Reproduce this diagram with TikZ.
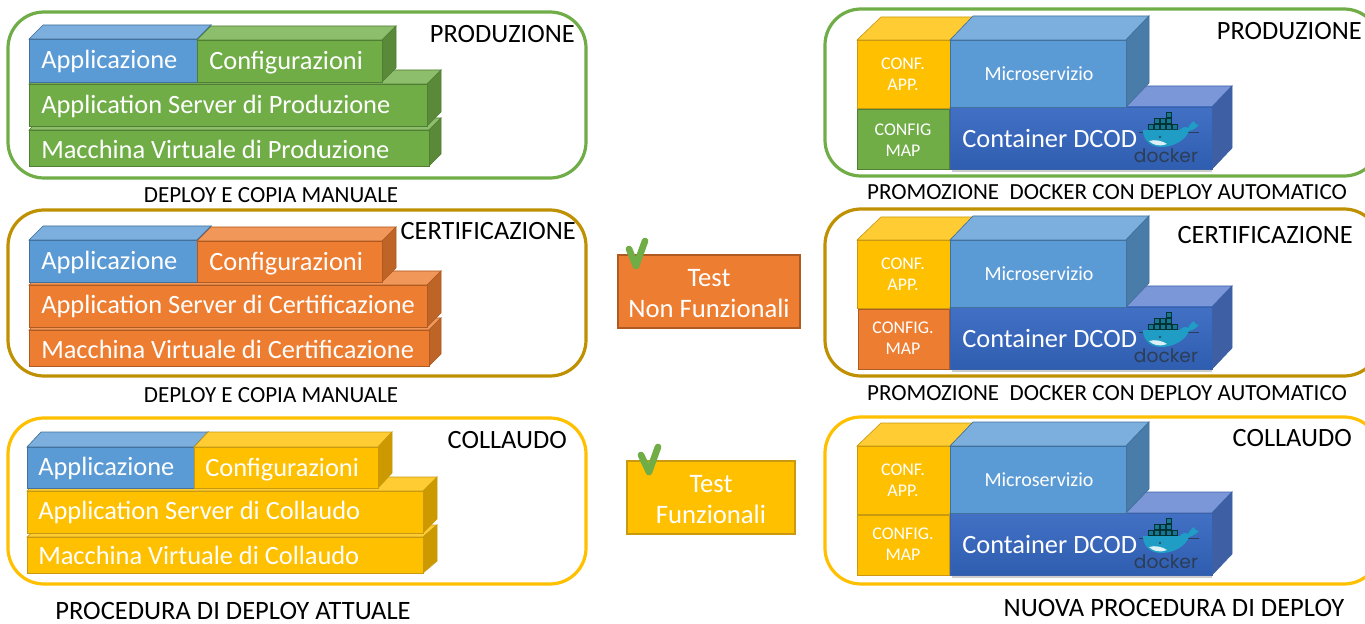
\documentclass[tikz,border=0pt]{standalone}
\usepackage{fontspec}
\setmainfont{Carlito}
\newfontfamily\dockerfont{Poppins}
\definecolor{bluF}{HTML}{5B9BD5}\definecolor{bluT}{HTML}{7CAFDE}\definecolor{bluS}{HTML}{4A7CAA}\definecolor{bluB}{HTML}{41719C}
\definecolor{grnF}{HTML}{70AD47}\definecolor{grnT}{HTML}{8DBE6C}\definecolor{grnS}{HTML}{5A8A39}\definecolor{grnB}{HTML}{507E32}
\definecolor{orgF}{HTML}{ED7D31}\definecolor{orgT}{HTML}{F1975A}\definecolor{orgS}{HTML}{BE6427}\definecolor{orgB}{HTML}{AE5A21}
\definecolor{ylwF}{HTML}{FFC000}\definecolor{ylwT}{HTML}{FFCD33}\definecolor{ylwS}{HTML}{CC9A00}\definecolor{ylwB}{HTML}{C99A10}
\definecolor{navF}{HTML}{4270C4}\definecolor{navG}{HTML}{2F5DB0}\definecolor{navT}{HTML}{7C97D8}\definecolor{navS}{HTML}{3E5FA4}\definecolor{navB}{HTML}{3A62A8}
\definecolor{panG}{HTML}{70AD47}\definecolor{panO}{HTML}{BF9000}\definecolor{panY}{HTML}{FFC000}
\definecolor{whaleC}{HTML}{1F9DC4}\definecolor{dockC}{HTML}{2C3E55}
\tikzset{
 x=0.75pt,y=-0.75pt,
 panel/.style={draw=#1,line width=2.4pt,rounded corners=27pt,fill=white},
 lab/.style={inner sep=0pt,text=white,anchor=west,yshift=-0.4pt,font=\fontsize{19.8}{23}\selectfont},
 lab2/.style={inner sep=0pt,text=white,align=center,font=\fontsize{13.4}{16}\selectfont},
 lab3/.style={inner sep=0pt,text=white,align=center,font=\fontsize{20}{23.5}\selectfont,text depth=0pt},
 micro/.style={inner sep=0pt,text=white,font=\fontsize{15}{17}\selectfont},
 capt/.style={inner sep=0pt,text=black,font=\fontsize{17.3}{20}\selectfont},
 capbig/.style={inner sep=0pt,text=black,font=\fontsize{19.9}{23}\selectfont},
 env/.style={inner sep=0pt,text=black,font=\fontsize{19.8}{23}\selectfont},
 docktext/.style={inner sep=0pt,text=dockC,font=\dockerfont\fontsize{14}{14}\selectfont},
 tickmark/.style={draw=grnF,line width=5pt,line cap=round,line join=round},
 testbox/.style={draw=#1,line width=1.2pt},
}
% x0 y0 x1 y1 (front), xr ytop (back corner), palette
\newcommand{\cube}[7]{%
 \fill[#7T,draw=#7B,line width=.5pt] (#1,#2) -- (#1+#5-#3,#6) -- (#5,#6) -- (#3,#2) -- cycle;
 \fill[#7S,draw=#7B,line width=.5pt] (#3,#2) -- (#5,#6) -- (#5,#6+#4-#2) -- (#3,#4) -- cycle;
 \fill[#7F,draw=#7B,line width=.7pt] (#1,#2) rectangle (#3,#4);
}
\newcommand{\navfront}[4]{%
 \fill[top color=navF,bottom color=navG,draw=navB,line width=.5pt] (#1,#2) rectangle (#3,#4);
}
\newcommand{\whale}[2]{%
 \begin{scope}[shift={(#1,#2)}]
  \fill[dockC] (-4,-1) rectangle (56,0);
  \foreach \xx/\yy in {5/-9,11/-9,17/-9,23/-9,29/-9,11/-15,17/-15,23/-15,23/-21}
    {\fill[whaleC!75!black,draw=teal!40!black,line width=.3pt] (\xx,\yy) rectangle (\xx+5.4,\yy+5.4);}
  \fill[whaleC] (0,-3) -- (37,-3) .. controls (39,-6) and (43,-7) .. (45,-5) .. controls (47,-9) and (49,-11) .. (51,-12) .. controls (51,-10) and (52,-9) .. (56,-8) .. controls (53,-5) and (50,-3) .. (46,-2) .. controls (42,8) and (30,14) .. (18,14) .. controls (6,14) and (0,6) .. (0,-3) -- cycle;
  \fill[white!85!whaleC] (6,8) .. controls (12,6) and (20,8) .. (24,11) .. controls (16,14) and (10,12) .. (6,8) -- cycle;
  \fill[dockC] (17,4) circle (1.2);
 \end{scope}}
\begin{document}
\begin{tikzpicture}
\useasboundingbox (0,0) rectangle (1365,624);
\fill[white] (0,0) rectangle (1365,624);
% --- left panels
\draw[panel=panG] (8,12) rectangle (586,178);
\draw[panel=panO] (8,210) rectangle (586,376);
\draw[panel=panY] (8,418) rectangle (586,584);
% --- right panels
\draw[panel=panG] (825,9) rectangle (1380,176);
\draw[panel=panO] (825,209) rectangle (1380,376);
\draw[panel=panY] (825,417) rectangle (1380,584);
% --- left: produzione
\cube{29}{130}{429}{166}{441}{118}{grn}
\cube{29}{84}{427}{126}{441}{70}{grn}
\cube{29}{39}{197}{82}{211}{25}{blu}
\cube{197}{40}{382}{82}{396}{26}{grn}
\node[lab] (a1) at (41,61) {Applicazione};
\node[lab] (a2) at (209,62) {Configurazioni};
\node[lab] (a3) at (41,106) {Application Server di Produzione};
\node[lab] (a4) at (41,149) {Macchina Virtuale di Produzione};
\node[env,anchor=east] (a5) at (575,34) {PRODUZIONE};
\node[capt] (a6) at (271,195) {DEPLOY E COPIA MANUALE};
% --- left: certificazione
\cube{29}{330}{429}{366}{441}{318}{org}
\cube{29}{285}{427}{327}{441}{271}{org}
\cube{29}{240}{197}{282}{211}{226}{blu}
\cube{197}{241}{382}{282}{396}{227}{org}
\node[lab] (b1) at (41,262) {Applicazione};
\node[lab] (b2) at (209,263) {Configurazioni};
\node[lab] (b3) at (41,306) {Application Server di Certificazione};
\node[lab] (b4) at (41,349) {Macchina Virtuale di Certificazione};
\node[env,anchor=east] (b5) at (576,231) {CERTIFICAZIONE};
\node[capt] (b6) at (271,395) {DEPLOY E COPIA MANUALE};
% --- left: collaudo
\cube{27}{537}{423}{573}{437}{525}{ylw}
\cube{27}{491}{423}{533}{437}{477}{ylw}
\cube{27}{447}{194}{488}{208}{432}{blu}
\cube{194}{447}{378}{488}{392}{432}{ylw}
\node[lab] (c1) at (38,468) {Applicazione};
\node[lab] (c2) at (205,469) {Configurazioni};
\node[lab] (c3) at (38,512) {Application Server di Collaudo};
\node[lab] (c4) at (38,555) {Macchina Virtuale di Collaudo};
\node[env,anchor=east] (c5) at (567,440) {COLLAUDO};
\node[capbig] (c6) at (233,611) {PROCEDURA DI DEPLOY ATTUALE};
% --- middle
\node[testbox=orgB,fill=orgF,minimum width=136.5pt,minimum height=54.5pt] (t1) at (709,291.5) {};
\node[lab3] (t1t) at (709,293.5) {Test\\Non Funzionali};
\node[testbox=ylwB,fill=ylwF,minimum width=126pt,minimum height=54.5pt] (t2) at (711,497.5) {};
\node[lab3] (t2t) at (711,499.5) {Test\\Funzionali};
\coordinate (k1a) at (629,249); \coordinate (k1b) at (636,266); \coordinate (k1c) at (645,241);
\coordinate (k2a) at (641,455); \coordinate (k2b) at (649,472); \coordinate (k2c) at (658,447);
\draw[tickmark] (k1a) -- (k1b) -- (k1c);
\draw[tickmark] (k2a) -- (k2b) -- (k2c);
% --- right: produzione
\cube{857}{40}{950}{108}{974}{17}{ylw}
\fill[black,opacity=.2] (952,169) rectangle (1212,172);
\cube{950}{107}{1212}{169}{1232}{86}{nav}
\navfront{950}{107}{1212}{169}
\cube{950}{40}{1126}{107}{1149}{16}{blu}
\fill[grnF,draw=grnB,line width=.6pt] (857,109) rectangle (949,169);
\node[lab2] (d1) at (903,74) {CONF.\\APP.};
\node[lab2] (d2) at (903,140) {CONFIG\\MAP};
\node[micro] (d3) at (1039,74) {Microservizio};
\node[lab] (d4) at (962,138) {Container DCOD};
\whale{1143}{133}
\node[docktext] (d5) at (1166,156) {docker};
\node[env,anchor=east] (d6) at (1362,31) {PRODUZIONE};
\node[capt] (d7) at (1107,192) {PROMOZIONE\ \ DOCKER CON DEPLOY AUTOMATICO};
% --- right: certificazione
\cube{857}{240}{950}{308}{974}{217}{ylw}
\fill[black,opacity=.2] (952,369) rectangle (1212,372);
\cube{950}{307}{1212}{369}{1232}{286}{nav}
\navfront{950}{307}{1212}{369}
\cube{950}{240}{1126}{307}{1149}{216}{blu}
\fill[orgF,draw=orgB,line width=.6pt] (858,309) rectangle (949,369);
\node[lab2] (e1) at (903,274) {CONF.\\APP.};
\node[lab2] (e2) at (903,338) {CONFIG.\\MAP};
\node[micro] (e3) at (1039,274) {Microservizio};
\node[lab] (e4) at (962,338) {Container DCOD};
\whale{1143}{333}
\node[docktext] (e5) at (1166,356) {docker};
\node[env,anchor=east] (e6) at (1353,235) {CERTIFICAZIONE};
\node[capt] (e7) at (1107,393) {PROMOZIONE\ \ DOCKER CON DEPLOY AUTOMATICO};
% --- right: collaudo
\cube{857}{446}{950}{514}{974}{423}{ylw}
\fill[black,opacity=.2] (952,575) rectangle (1212,578);
\cube{950}{513}{1212}{575}{1232}{492}{nav}
\navfront{950}{513}{1212}{575}
\cube{950}{446}{1126}{513}{1149}{422}{blu}
\fill[ylwF,draw=ylwB,line width=.6pt] (857,515) rectangle (949,575);
\node[lab2] (f1) at (903,480) {CONF.\\APP.};
\node[lab2] (f2) at (903,544) {CONFIG.\\MAP};
\node[micro] (f3) at (1039,480) {Microservizio};
\node[lab] (f4) at (962,544) {Container DCOD};
\whale{1143}{539}
\node[docktext] (f5) at (1166,562) {docker};
\node[env,anchor=east] (f6) at (1352,438) {COLLAUDO};
\node[capbig] (f7) at (1174,608) {NUOVA PROCEDURA DI DEPLOY};
\end{tikzpicture}
\end{document}
